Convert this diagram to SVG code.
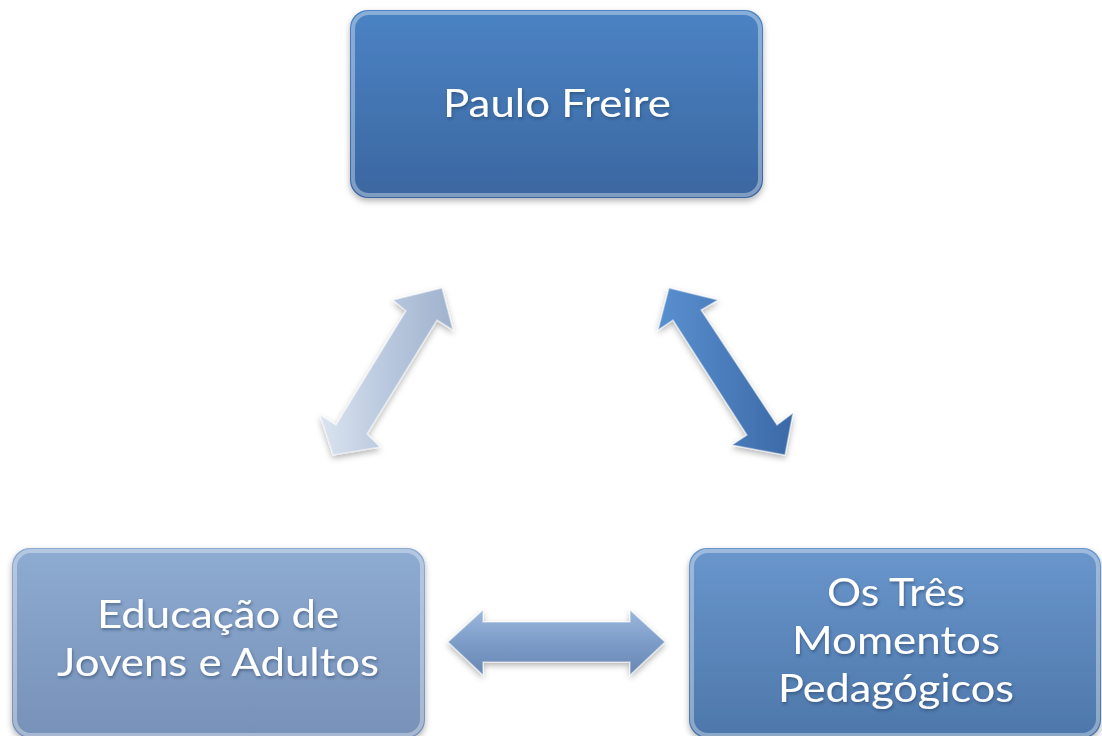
<svg xmlns="http://www.w3.org/2000/svg" width="1102" height="736" viewBox="0 0 1102 736">
<defs>
  <linearGradient id="gTop" x1="0" y1="0" x2="0" y2="1">
    <stop offset="0" stop-color="#4b83c4"/>
    <stop offset="1" stop-color="#3b67a0"/>
  </linearGradient>
  <linearGradient id="gLeft" x1="0" y1="0" x2="0" y2="1">
    <stop offset="0" stop-color="#8eabd2"/>
    <stop offset="1" stop-color="#7791b8"/>
  </linearGradient>
  <linearGradient id="gRight" x1="0" y1="0" x2="0" y2="1">
    <stop offset="0" stop-color="#6996cc"/>
    <stop offset="1" stop-color="#4d77aa"/>
  </linearGradient>
  <linearGradient id="gA1" x1="0" y1="0" x2="1" y2="0">
    <stop offset="0" stop-color="#dbe4f0"/>
    <stop offset="0.5" stop-color="#b9c8de"/>
    <stop offset="1" stop-color="#9fb2cd"/>
  </linearGradient>
  <linearGradient id="gA2" x1="0" y1="0" x2="1" y2="0">
    <stop offset="0" stop-color="#5a90d0"/>
    <stop offset="1" stop-color="#3b69a6"/>
  </linearGradient>
  <linearGradient id="gA3" x1="0" y1="0" x2="0" y2="1">
    <stop offset="0" stop-color="#9cb7dc"/>
    <stop offset="0.5" stop-color="#7c9cc8"/>
    <stop offset="1" stop-color="#6886b3"/>
  </linearGradient>
  <filter id="sh" x="-10%" y="-10%" width="120%" height="130%">
    <feDropShadow dx="0" dy="3" stdDeviation="3" flood-color="#000" flood-opacity="0.3"/>
  </filter>
  <filter id="tsh" x="-10%" y="-20%" width="120%" height="150%">
    <feDropShadow dx="1" dy="2" stdDeviation="1.5" flood-color="#1d3557" flood-opacity="0.5"/>
  </filter>
</defs>
<style>
  .box { stroke: none; }
  .hl { fill: none; stroke: #ffffff; stroke-opacity: 0.35; stroke-width: 4; }
  .lbl { font-family: Lato, "Open Sans", sans-serif; font-size: 39px; fill: #ffffff; text-anchor: middle; }
  .arr { stroke: #ffffff; stroke-opacity: 0.45; stroke-width: 1.5; }
</style>
<rect width="1102" height="736" fill="#ffffff"/>

<g id="connectors">
  <g filter="url(#sh)">
    <path class="arr" fill="url(#gA1)" d="M442,288 L453,330 L437,320 L367,434 L380,447 L333,455 L320,415 L336,425 L406,311 L393,300 Z"/>
    <path class="arr" fill="url(#gA2)" d="M669,288 L718,300 L701,310 L777,425 L793,413 L785,455 L732,445 L747,435 L673,320 L658,330 Z"/>
    <path class="arr" fill="url(#gA3)" d="M448,642 L483,610 L483,622 L630,622 L630,610 L665,642 L630,675 L630,662 L483,662 L483,675 Z"/>
  </g>
</g>

<g id="node-paulo-freire">
  <rect class="box" x="350" y="10" width="413" height="188" rx="18" fill="url(#gTop)" filter="url(#sh)"/>
  <rect class="hl" x="353" y="13" width="407" height="182" rx="16"/>
  <text class="lbl" x="557" y="117" textLength="228" lengthAdjust="spacingAndGlyphs" filter="url(#tsh)">Paulo Freire</text>
</g>

<g id="node-eja">
  <rect class="box" x="12" y="548" width="413" height="190" rx="18" fill="url(#gLeft)" filter="url(#sh)"/>
  <rect class="hl" x="15" y="551" width="407" height="184" rx="16"/>
  <text class="lbl" x="218" y="628" textLength="242" lengthAdjust="spacingAndGlyphs" filter="url(#tsh)">Educação de</text>
  <text class="lbl" x="218" y="676" textLength="322" lengthAdjust="spacingAndGlyphs" filter="url(#tsh)">Jovens e Adultos</text>
</g>

<g id="node-tres-momentos">
  <rect class="box" x="689" y="548" width="412" height="190" rx="18" fill="url(#gRight)" filter="url(#sh)"/>
  <rect class="hl" x="692" y="551" width="406" height="184" rx="16"/>
  <text class="lbl" x="896" y="606" textLength="138" lengthAdjust="spacingAndGlyphs" filter="url(#tsh)">Os Três</text>
  <text class="lbl" x="896" y="654" textLength="208" lengthAdjust="spacingAndGlyphs" filter="url(#tsh)">Momentos</text>
  <text class="lbl" x="896" y="702" textLength="236" lengthAdjust="spacingAndGlyphs" filter="url(#tsh)">Pedagógicos</text>
</g>
</svg>
